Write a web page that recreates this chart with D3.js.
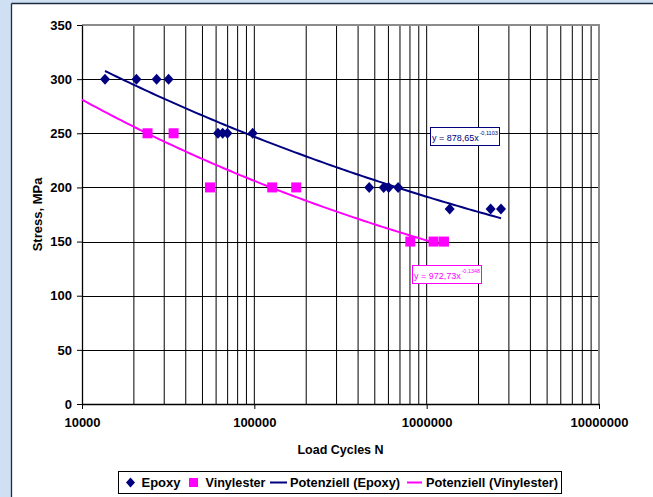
<!DOCTYPE html>
<html>
<head>
<meta charset="utf-8">
<script src="https://cdn.jsdelivr.net/npm/d3@7"></script>
<style>
  body { margin: 0; background: #cfe0f2; }
  svg { display: block; font-family: "Liberation Sans", Arial, sans-serif; }
</style>
</head>
<body>
<div id="chart-area"></div>
<script>
// Epoxy test results (load cycles, stress MPa)
const epoxyCycles = [13600, 20700, 27100, 31800, 61500, 65500, 69800, 97800,
  464000, 563000, 602000, 683000, 1360000, 2350000, 2700000]
const epoxyStress = [300, 300, 300, 300, 250, 250, 250, 250,
  200, 200, 200, 200, 180, 180, 180]

// Vinylester test results
const vinylCycles = [24000, 34000, 55300, 127000, 175000, 804000, 1097000, 1260000]
const vinylStress = [250, 250, 200, 200, 200, 150, 150, 150]

// power trend lines y = a * x^b, with their drawn range
const epoxyFit = [878.65, -0.1103]
const vinylFit = [972.73, -0.1348]
const epoxyFitRange = [13600, 2700000]
const vinylFitRange = [10000, 1260000]

const yTicks = [0, 50, 100, 150, 200, 250, 300, 350]
const xTicks = [10000, 100000, 1000000, 10000000]

const NAVY = "#000080"
const PINK = "#ff00ff"

const W = 653, H = 497
const svg = d3.select("#chart-area").append("svg")
  .attr("width", W)
  .attr("height", H)

// white chart area with dark frame on top/left
svg.append("rect")
  .attr("x", 12).attr("y", 4)
  .attr("width", W).attr("height", H)
  .attr("fill", "#fff")
svg.append("line").attr("x1", 11.5).attr("x2", 11.5).attr("y1", 3.5).attr("y2", H)
  .attr("stroke", "#1f2a44").attr("stroke-width", 1.3)
svg.append("line").attr("x1", 11.5).attr("x2", W).attr("y1", 3.5).attr("y2", 3.5)
  .attr("stroke", "#1f2a44").attr("stroke-width", 1.3)

const x = d3.scaleLog().domain([1e4, 1e7]).range([82, 599])
const y = d3.scaleLinear().domain([0, 350]).range([404, 25])

const g = svg.append("g")

// vertical gridlines (major + minor log lines)
const gridX = []
for (let d = 1e4; d < 1e7; d *= 10) {
  for (let k = 1; k <= 9; k++) if (!(k === 1 && d === 1e4)) gridX.push(k * d)
}
g.selectAll(".vgrid").data(gridX).enter().append("line")
  .attr("class", "vgrid")
  .attr("x1", d => x(d)).attr("x2", d => x(d))
  .attr("y1", y(350)).attr("y2", y(0))
  .attr("stroke", "#000").attr("stroke-width", 1)

// horizontal gridlines
g.selectAll(".hgrid").data(yTicks.filter(d => d > 0)).enter().append("line")
  .attr("class", "hgrid")
  .attr("x1", x(1e4)).attr("x2", x(1e7))
  .attr("y1", d => Math.round(y(d)) + 0.5).attr("y2", d => Math.round(y(d)) + 0.5)
  .attr("stroke", "#000").attr("stroke-width", 1)

// plot border (gray, top/right)
g.append("path")
  .attr("d", `M${x(1e4)},${y(350)}H${x(1e7)}V${y(0)}`)
  .attr("fill", "none").attr("stroke", "#8c8c8c").attr("stroke-width", 2)

// axes
const yAxis = d3.axisLeft(y).tickValues(yTicks).tickSize(5).tickSizeOuter(0).tickPadding(5)
const yAxisGroup = g.append("g")
  .attr("transform", `translate(${x(1e4)},0)`)
  .call(yAxis)
const xAxis = d3.axisBottom(x).tickValues(xTicks).tickSize(5).tickSizeOuter(0)
  .tickPadding(9).tickFormat(d3.format("d"))
const xAxisGroup = g.append("g")
  .attr("transform", `translate(0,${y(0)})`)
  .call(xAxis)
for (const ag of [xAxisGroup, yAxisGroup]) {
  ag.select(".domain").attr("stroke", "#000").attr("stroke-width", 1.3)
  ag.selectAll(".tick line").attr("stroke", "#000")
  ag.selectAll("text")
    .attr("font-family", "Liberation Sans, Arial, sans-serif")
    .attr("font-size", "13px").attr("font-weight", "bold").attr("fill", "#000")
}

// axis titles
svg.append("text")
  .attr("x", (x(1e4) + x(1e7)) / 2).attr("y", 454)
  .attr("text-anchor", "middle")
  .attr("font-size", "12.5px").attr("font-weight", "bold")
  .text("Load Cycles N")
svg.append("text")
  .attr("transform", `translate(42,${(y(0) + y(350)) / 2}) rotate(-90)`)
  .attr("text-anchor", "middle")
  .attr("font-size", "13px").attr("font-weight", "bold")
  .text("Stress, MPa")

// trend lines
function fitPoints(fit, range) {
  const lo = Math.log10(range[0]), hi = Math.log10(range[1])
  return d3.range(0, 101).map(i => {
    const n = Math.pow(10, lo + (hi - lo) * i / 100)
    return [n, fit[0] * Math.pow(n, fit[1])]
  })
}
const line = d3.line().x(d => x(d[0])).y(d => y(d[1]))
g.append("path").datum(fitPoints(epoxyFit, epoxyFitRange))
  .attr("d", line).attr("fill", "none").attr("stroke", NAVY).attr("stroke-width", 2)
g.append("path").datum(fitPoints(vinylFit, vinylFitRange))
  .attr("d", line).attr("fill", "none").attr("stroke", PINK).attr("stroke-width", 2)

// markers
const epoxyData = epoxyCycles.map((c, i) => ({ c, s: epoxyStress[i] }))
const vinylData = vinylCycles.map((c, i) => ({ c, s: vinylStress[i] }))

g.selectAll(".epoxy").data(epoxyData).enter().append("path")
  .attr("class", "epoxy")
  .attr("transform", d => `translate(${x(d.c)},${y(d.s)})`)
  .attr("d", "M0,-5.5L5,0L0,5.5L-5,0Z")
  .attr("fill", NAVY)

g.selectAll(".vinyl").data(vinylData).enter().append("rect")
  .attr("class", "vinyl")
  .attr("x", d => x(d.c) - 5).attr("y", d => y(d.s) - 5)
  .attr("width", 10).attr("height", 10)
  .attr("fill", PINK)

// equation labels
function eqLabel(bx, by, bw, color, base, exp) {
  const lg = svg.append("g").attr("transform", `translate(${bx},${by})`)
  lg.append("rect").attr("x", 0.5).attr("y", 0.5).attr("width", bw).attr("height", 18)
    .attr("fill", "#fff").attr("stroke", color).attr("stroke-width", 1)
  const t = lg.append("text").attr("y", 13.5)
    .attr("font-size", "9px").attr("fill", color)
  t.append("tspan").attr("x", 2).text(base)
  t.append("tspan").attr("x", 49.5).attr("dy", -5.5).attr("font-size", "5.5px").text(exp)
}
eqLabel(430, 127, 69, NAVY, "y = 878,65x", "-0,1103")
eqLabel(412, 265, 69, PINK, "y = 972,73x", "-0,1348")

// legend
const legend = svg.append("g")
legend.append("rect")
  .attr("x", 118.5).attr("y", 471.5).attr("width", 443).attr("height", 22)
  .attr("fill", "#fff").attr("stroke", "#000").attr("stroke-width", 1)
const ly = 482.5
legend.append("path").attr("transform", `translate(130.5,${ly})`)
  .attr("d", "M0,-5L4.5,0L0,5L-4.5,0Z").attr("fill", NAVY)
legend.append("rect").attr("x", 189).attr("y", ly - 4.5).attr("width", 9).attr("height", 9)
  .attr("fill", PINK)
legend.append("line").attr("x1", 270).attr("x2", 287).attr("y1", ly).attr("y2", ly)
  .attr("stroke", NAVY).attr("stroke-width", 2)
legend.append("line").attr("x1", 407).attr("x2", 422).attr("y1", ly).attr("y2", ly)
  .attr("stroke", PINK).attr("stroke-width", 2)
const legendItems = [
  { label: "Epoxy", x: 141.5, w: 39 },
  { label: "Vinylester", x: 205.5, w: 60 },
  { label: "Potenziell (Epoxy)", x: 290, w: 110 },
  { label: "Potenziell (Vinylester)", x: 426, w: 132 }
]
legend.selectAll(".ltxt").data(legendItems).enter().append("text")
  .attr("class", "ltxt")
  .attr("x", d => d.x).attr("y", ly + 4.5)
  .attr("font-size", "13px").attr("font-weight", "bold")
  .attr("textLength", d => d.w).attr("lengthAdjust", "spacingAndGlyphs")
  .text(d => d.label)
</script>
</body>
</html>
